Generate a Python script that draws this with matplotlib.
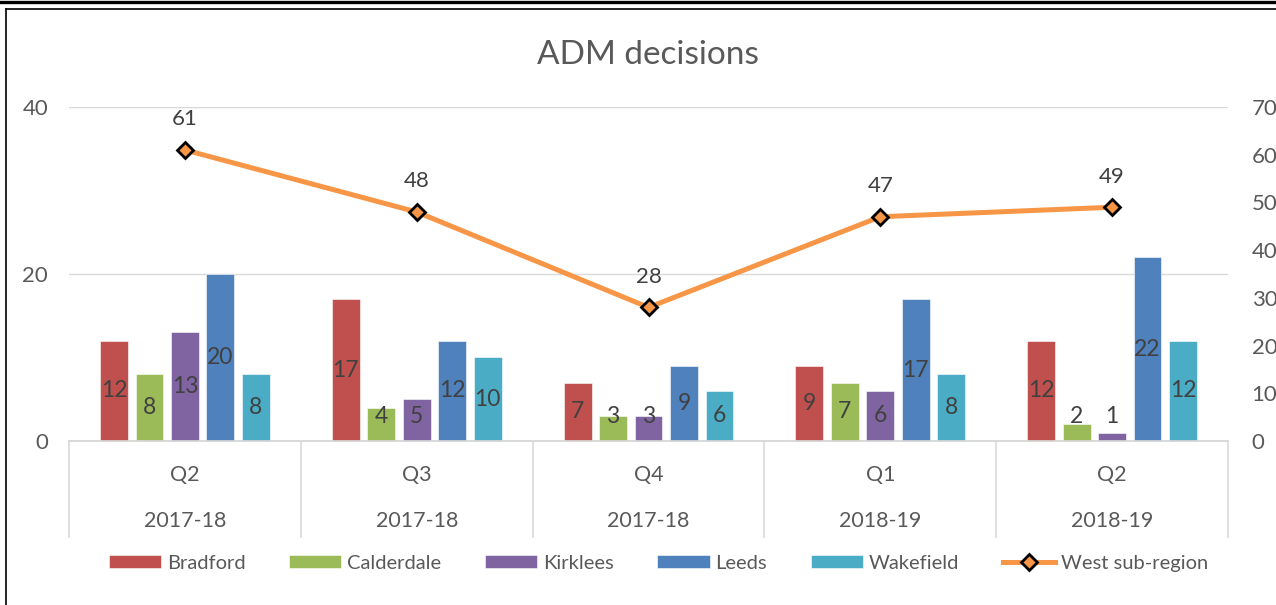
import numpy as np
import matplotlib
matplotlib.use('Agg')
import matplotlib.pyplot as plt
from matplotlib.lines import Line2D
from matplotlib.transforms import blended_transform_factory

quarters = ['Q2', 'Q3', 'Q4', 'Q1', 'Q2']
years = ['2017-18', '2017-18', '2017-18', '2018-19', '2018-19']
areas = ['Bradford', 'Calderdale', 'Kirklees', 'Leeds', 'Wakefield']
bradford = [12, 17, 7, 9, 12]
calderdale = [8, 4, 3, 7, 2]
kirklees = [13, 5, 3, 6, 1]
leeds = [20, 12, 9, 17, 22]
wakefield = [8, 10, 6, 8, 12]
west = [61, 48, 28, 47, 49]

colors = ['#C0504D', '#9BBB59', '#8064A2', '#4F81BD', '#4BACC6']
line_color = '#F79646'
txt = '#595959'
lbl = '#404040'

plt.rcParams['font.family'] = ['Lato', 'DejaVu Sans']

fig = plt.figure(figsize=(12.76, 6.05), dpi=100)
ax = fig.add_axes([0.0541, 0.2711, 0.9083, 0.552])
ax2 = ax.twinx()

x = np.arange(len(quarters))
width = 0.12
pitch = 0.153
series = [bradford, calderdale, kirklees, leeds, wakefield]
for i, (name, vals) in enumerate(zip(areas, series)):
    xs = x + (i - 2) * pitch
    ax.bar(xs, vals, width, color=colors[i], edgecolor='white', linewidth=0.4,
           label=name, zorder=3)
    for xi, v in zip(xs, vals):
        ax.text(xi, max(v / 2, 2.9), str(v), ha='center', va='center',
                fontsize=16.5, color=lbl, zorder=4)

ax2.plot(x, west, color=line_color, lw=3.6, marker='D', markersize=8.5,
         markerfacecolor=line_color, markeredgecolor='black', markeredgewidth=2,
         label='West sub-region', zorder=5)
for xi, v in zip(x, west):
    ax2.annotate(str(v), (xi, v), xytext=(0, 22), textcoords='offset points',
                 ha='center', va='center', fontsize=16, color=lbl)

ax.set_xlim(-0.5, len(quarters) - 0.5)
ax.set_ylim(0, 40)
ax.set_yticks([0, 20, 40])
ax2.set_ylim(0, 70)
ax2.set_yticks(range(0, 71, 10))
ax.grid(axis='y', color='#D9D9D9', lw=1, zorder=0)
ax.set_xticks([])
for a in (ax, ax2):
    for s in ('top', 'left', 'right'):
        a.spines[s].set_visible(False)
    a.spines['bottom'].set_color('#D9D9D9')
    a.spines['bottom'].set_linewidth(1.2)
ax.tick_params(axis='y', length=0, pad=15, labelsize=16, labelcolor=txt)
ax2.tick_params(axis='y', length=0, pad=17, labelsize=16, labelcolor=txt)

# two level category axis
tr = blended_transform_factory(ax.transData, fig.transFigure)
for xi, q, yr in zip(x, quarters, years):
    fig.text(xi, 0.2149, q, transform=tr, ha='center', va='center', fontsize=15.5, color=txt)
    fig.text(xi, 0.1388, yr, transform=tr, ha='center', va='center', fontsize=15.5, color=txt)
for b in np.arange(len(quarters) + 1) - 0.5:
    fig.add_artist(Line2D([b, b], [0.2711, 0.1124], transform=tr, color='#D9D9D9', lw=1.2))

fig.text(0.508, 0.909, 'ADM decisions', ha='center', va='center', fontsize=24, color=txt)

h1, l1 = ax.get_legend_handles_labels()
h2, l2 = ax2.get_legend_handles_labels()
fig.legend(h1 + h2, l1 + l2, loc='center', bbox_to_anchor=(0.516, 0.069), ncol=6,
           frameon=False, fontsize=14.5, labelcolor=txt, handlelength=2.6,
           handleheight=0.65, columnspacing=2.15, handletextpad=0.3)

# chart border
fig.add_artist(Line2D([0, 1], [1 - 1.5 / 605, 1 - 1.5 / 605], transform=fig.transFigure, color='black', lw=2.4))
fig.add_artist(Line2D([5.5 / 1276, 1], [1 - 8.5 / 605, 1 - 8.5 / 605], transform=fig.transFigure, color='black', lw=1.2))
fig.add_artist(Line2D([5.5 / 1276, 5.5 / 1276], [0, 1 - 8.5 / 605], transform=fig.transFigure, color='black', lw=1.2))

fig.savefig('out.png', dpi=100)
